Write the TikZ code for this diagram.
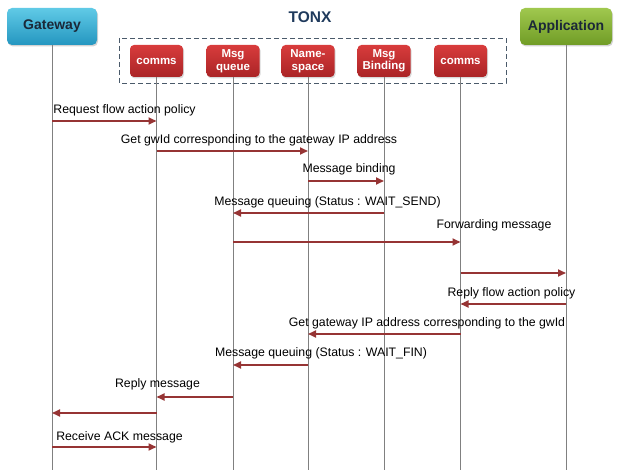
\documentclass[tikz,border=0pt]{standalone}
\usepackage{fontspec}
\setmainfont{Liberation Sans}
\usepackage{xcolor}
\usepackage{tikz}
\usetikzlibrary{arrows.meta, positioning, calc, shadows}
\definecolor{msgred}{RGB}{150,52,52}
\definecolor{lifegray}{RGB}{128,128,128}
\definecolor{darktext}{RGB}{27,40,56}
\definecolor{tonxblue}{RGB}{31,58,92}
\definecolor{framegray}{RGB}{74,90,106}
\tikzset{
    actor/.style = {rounded corners=5pt, inner sep=0pt, text=darktext,
        font=\fontsize{14}{16}\selectfont\bfseries, minimum height=37pt,
        drop shadow={opacity=0.35, shadow xshift=1pt, shadow yshift=-1.5pt}},
    gwbox/.style = {actor, minimum width=90pt, top color={rgb,255:red,96;green,202;blue,230},
        bottom color={rgb,255:red,36;green,150;blue,192}},
    appbox/.style = {actor, minimum width=92pt, top color={rgb,255:red,160;green,200;blue,78},
        bottom color={rgb,255:red,112;green,156;blue,38}},
    part/.style = {rounded corners=4pt, inner sep=0pt, align=center, text=white,
        font=\fontsize{11.5}{12.5}\selectfont\bfseries, minimum width=53pt, minimum height=32pt,
        top color={rgb,255:red,216;green,60;blue,60}, bottom color={rgb,255:red,170;green,36;blue,38},
        drop shadow={opacity=0.3, shadow xshift=1pt, shadow yshift=-1.5pt}},
    life/.style = {draw=lifegray, line width=0.7pt},
    msg/.style = {draw=msgred, line width=1.8pt},
    lbl/.style = {anchor=base, inner sep=0pt, font=\fontsize{12.3}{14}\selectfont},
}

\begin{document}
\begin{tikzpicture}[x=1pt, y=-1pt, >={Triangle[length=8pt,width=7pt]}]
        \useasboundingbox (0,0) rectangle (619,470);
        \coordinate (bot) at (0,470);
        % participants
        \node (gw) [gwbox] at (52,26.5) {Gateway};
        \node (app) [appbox] at (566,26.5) {Application};
        \node (tonx) [font=\fontsize{15.5}{17}\selectfont\bfseries, text=tonxblue] at (310,17) {TONX};
        \draw [framegray, line width=0.8pt, dash pattern=on 5pt off 3pt] (119,38) rectangle (506,83);
        \node (comms1) [part] at (156.5,61) {comms};
        \node (queue) [part] at (233,61) {Msg\\queue};
        \node (ns) [part] at (308,61) {Name-\\space};
        \node (bind) [part] at (384,61) {Msg\\Binding};
        \node (comms2) [part] at (460.5,61) {comms};
        % lifelines
        \foreach \p in {gw, comms1, queue, ns, bind, comms2, app}
            \draw [life] (\p.south) -- (\p.south |- bot);
        % message rows
        \coordinate (r1) at (0,121);
        \coordinate (r2) at (0,151);
        \coordinate (r3) at (0,181);
        \coordinate (r4) at (0,213);
        \coordinate (r5) at (0,242);
        \coordinate (r6) at (0,273);
        \coordinate (r7) at (0,304);
        \coordinate (r8) at (0,334);
        \coordinate (r9) at (0,365);
        \coordinate (r10) at (0,397);
        \coordinate (r11) at (0,413);
        \coordinate (r12) at (0,447);
        \draw [msg, ->] (gw |- r1) -- (comms1 |- r1);
        \draw [msg, ->] (comms1 |- r2) -- (ns |- r2);
        \draw [msg, ->] (ns |- r3) -- (bind |- r3);
        \draw [msg, ->] (bind |- r4) -- (queue |- r4);
        \draw [msg, ->] (queue |- r5) -- (comms2 |- r5);
        \draw [msg, ->] (comms2 |- r6) -- (app |- r6);
        \draw [msg, ->] (app |- r7) -- (comms2 |- r7);
        \draw [msg, ->] (comms2 |- r8) -- (ns |- r8);
        \draw [msg, ->] (ns |- r9) -- (queue |- r9);
        \draw [msg, ->] (queue |- r10) -- (comms1 |- r10);
        \draw [msg, ->] (comms1 |- r11) -- (gw |- r11);
        \draw [msg, ->] (gw |- r12) -- (comms1 |- r12);
        % labels
        \node (t1) [lbl] at (124.5,114) {Request flow action policy};
        \node (t2) [lbl] at (259,144) {Get gwId corresponding to the gateway IP address};
        \node (t3) [lbl] at (349,173) {Message binding};
        \node (t4) [lbl] at (327.5,205.5) {Message queuing (Status : WAIT\_SEND)};
        \node (t5) [lbl] at (494,229) {Forwarding message};
        \node (t7) [lbl] at (511.5,296.5) {Reply flow action policy};
        \node (t8) [lbl] at (427,326.5) {Get gateway IP address corresponding to the gwId};
        \node (t9) [lbl] at (321,356.5) {Message queuing (Status : WAIT\_FIN)};
        \node (t10) [lbl] at (157.5,388) {Reply message};
        \node (t12) [lbl] at (119.5,440) {Receive ACK message};
\end{tikzpicture}
\end{document}
